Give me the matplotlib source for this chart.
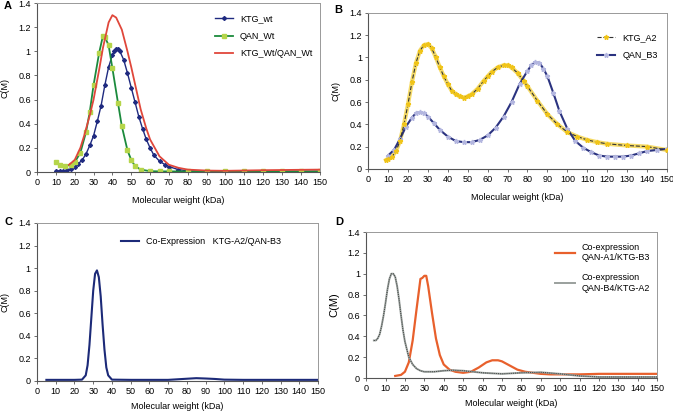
import matplotlib
matplotlib.use("Agg")
import matplotlib.pyplot as plt

plt.rcParams['font.family'] = ['Liberation Sans', 'DejaVu Sans']

# ---- panel A ----
ktg_wt_x = [10, 12, 14, 16, 18, 20, 22, 24, 26, 28, 30, 32, 34, 36, 38, 40, 41, 42, 43, 44, 46,
            48, 50, 52, 54, 56, 58, 60, 62, 65, 68, 70, 75, 80, 90, 100, 110, 120, 130, 140, 150]
ktg_wt_y = [0.01, 0.01, 0.01, 0.015, 0.025, 0.04, 0.07, 0.1, 0.15, 0.22, 0.3, 0.42, 0.55, 0.72, 0.87,
            0.97, 1.0, 1.02, 1.02, 1.0, 0.93, 0.82, 0.7, 0.58, 0.46, 0.36, 0.27, 0.2, 0.14, 0.09, 0.06,
            0.045, 0.02, 0.01, 0.006, 0.005, 0.005, 0.005, 0.005, 0.005, 0.006]
qan_wt_x = [10, 12, 15, 18, 20, 23, 26, 28, 30, 33, 35, 36, 38, 40, 43, 45, 48, 50, 52, 55, 60,
            65, 70, 80, 90, 100, 110, 120, 130, 140, 150]
qan_wt_y = [0.08, 0.06, 0.05, 0.06, 0.08, 0.16, 0.33, 0.5, 0.72, 0.99, 1.13, 1.12, 1.05, 0.86,
            0.57, 0.38, 0.18, 0.1, 0.05, 0.02, 0.007, 0.005, 0.005, 0.005, 0.005, 0.005, 0.005,
            0.005, 0.005, 0.005, 0.005]
ktg_qan_x = [17, 20, 23, 25, 28, 30, 33, 35, 38, 40, 42, 45, 48, 50, 53, 55, 58, 60, 65, 70, 75,
             80, 90, 100, 120, 150]
ktg_qan_y = [0.06, 0.1, 0.2, 0.3, 0.47, 0.6, 0.85, 1.03, 1.24, 1.3, 1.28, 1.18, 1.0, 0.87, 0.66,
             0.52, 0.36, 0.27, 0.13, 0.06, 0.035, 0.02, 0.012, 0.01, 0.015, 0.02]

# ---- panel B ----
ktg_a2_x = [9, 10, 12, 14, 16, 18, 20, 22, 24, 26, 28, 30, 32, 34, 36, 38, 40, 42, 44, 46, 48, 50,
            52, 55, 58, 60, 62, 65, 68, 70, 72, 75, 78, 80, 85, 90, 95, 100, 105, 110, 115, 120,
            130, 140, 150]
ktg_a2_y = [0.08, 0.09, 0.11, 0.16, 0.25, 0.4, 0.58, 0.78, 0.95, 1.06, 1.11, 1.12, 1.08, 1.0, 0.91,
            0.83, 0.76, 0.7, 0.67, 0.65, 0.64, 0.65, 0.67, 0.72, 0.79, 0.83, 0.87, 0.91, 0.93, 0.93,
            0.91, 0.86, 0.79, 0.74, 0.61, 0.49, 0.4, 0.33, 0.29, 0.26, 0.24, 0.225, 0.21, 0.2, 0.17]
qan_b3_x = [10, 13, 16, 19, 22, 24, 26, 28, 30, 33, 36, 40, 44, 48, 52, 56, 60, 64, 68, 72, 76, 80,
            82, 84, 86, 88, 90, 93, 96, 100, 104, 108, 112, 116, 120, 124, 128, 132, 136, 140,
            145, 150]
qan_b3_y = [0.12, 0.17, 0.27, 0.38, 0.46, 0.5, 0.51, 0.5, 0.47, 0.41, 0.35, 0.29, 0.25, 0.24, 0.24,
            0.26, 0.3, 0.37, 0.47, 0.6, 0.76, 0.88, 0.93, 0.96, 0.95, 0.9, 0.83, 0.68, 0.52, 0.36,
            0.25, 0.19, 0.15, 0.12, 0.11, 0.11, 0.11, 0.12, 0.14, 0.16, 0.17, 0.18]

# ---- panel C ----
coexp_x = [5, 10, 20, 24, 26, 27, 28, 29, 30, 31, 32, 33, 34, 35, 36, 37, 38, 40, 50, 60, 70, 75,
           80, 85, 90, 95, 100, 110, 120, 150]
coexp_y = [0.01, 0.01, 0.01, 0.012, 0.05, 0.14, 0.32, 0.56, 0.8, 0.95, 0.98, 0.92, 0.75, 0.5, 0.28,
           0.12, 0.05, 0.012, 0.01, 0.01, 0.01, 0.015, 0.02, 0.025, 0.022, 0.018, 0.012, 0.01, 0.01,
           0.01]

# ---- panel D ----
qa1_x = [15, 18, 20, 22, 24, 26, 28, 29, 30, 31, 32, 34, 36, 38, 40, 43, 46, 50, 54, 58, 62, 65,
         68, 70, 74, 78, 82, 86, 90, 95, 100, 110, 120, 130, 140, 150]
qa1_y = [0.02, 0.03, 0.06, 0.15, 0.36, 0.66, 0.95, 0.96, 0.98, 0.98, 0.88, 0.62, 0.38, 0.22, 0.13,
         0.08, 0.06, 0.05, 0.06, 0.1, 0.15, 0.17, 0.17, 0.16, 0.12, 0.08, 0.06, 0.05, 0.04, 0.035,
         0.035, 0.035, 0.04, 0.04, 0.04, 0.04]
qb4_x = [4, 5, 6, 7, 8, 9, 10, 11, 12, 13, 14, 15, 16, 17, 18, 19, 20, 22, 24, 26, 28, 30, 35, 40,
         45, 50, 55, 60, 70, 80, 90, 100, 110, 120, 130, 150]
qb4_y = [0.36, 0.36, 0.38, 0.42, 0.5, 0.6, 0.72, 0.85, 0.95, 1.0, 1.0, 0.97, 0.88, 0.75, 0.6, 0.46,
         0.35, 0.2, 0.13, 0.09, 0.07, 0.06, 0.06, 0.07, 0.075, 0.07, 0.06, 0.05, 0.04, 0.05, 0.055,
         0.04, 0.02, 0.01, 0.01, 0.01]

xticks = list(range(0, 151, 10))
yticks = [0, 0.2, 0.4, 0.6, 0.8, 1, 1.2, 1.4]
ytick_labels = ['0', '0.2', '0.4', '0.6', '0.8', '1', '1.2', '1.4']


def style_axes(ax, ylabel_size=6.5, xlabelpad=6):
    ax.set_xlim(0, 150)
    ax.set_ylim(0, 1.4)
    ax.set_xticks(xticks)
    ax.set_yticks(yticks)
    ax.set_yticklabels(ytick_labels)
    ax.tick_params(labelsize=6.5, length=2.5, width=0.6, color='#555555', pad=2)
    for side in ['top', 'right']:
        ax.spines[side].set_color('#999999')
        ax.spines[side].set_linewidth(0.7)
    for side in ['left', 'bottom']:
        ax.spines[side].set_color('#555555')
        ax.spines[side].set_linewidth(0.8)
    ax.set_xlabel('Molecular weight (kDa)', fontsize=6.5, labelpad=xlabelpad)
    ax.set_ylabel('C(M)', fontsize=ylabel_size, labelpad=6)


fig = plt.figure(figsize=(6.73, 4.13), dpi=100)

axA = fig.add_axes([0.055, 0.5835, 0.42, 0.409])
axA.plot(ktg_wt_x, ktg_wt_y, color='#1f2a80', lw=1.0, marker='D', ms=2.0, mfc='#1f2a80',
         mec='#1f2a80', label='KTG_wt')
axA.plot(qan_wt_x, qan_wt_y, color='#1b8a3c', lw=1.3, marker='s', ms=2.6, mfc='#b5d54a',
         mec='#b5d54a', label='QAN_Wt')
axA.plot(ktg_qan_x, ktg_qan_y, color='#e0473b', lw=1.3, label='KTG_Wt/QAN_Wt')
style_axes(axA)
axA.legend(loc='upper left', bbox_to_anchor=(0.6, 0.98), frameon=False, fontsize=6.5,
           handlelength=2, labelspacing=0.9)

axB = fig.add_axes([0.547, 0.591, 0.444, 0.378])
axB.plot(ktg_a2_x, ktg_a2_y, color='#f2cc2a', lw=3, alpha=0.7, zorder=2)
axB.plot(ktg_a2_x, ktg_a2_y, color='#333333', lw=0.8, ls='--', marker='*', ms=3.5, mfc='#f0c419',
         mec='#f0c419', zorder=3, label='KTG_A2')
axB.plot(qan_b3_x, qan_b3_y, color='#2b3380', lw=1.5, marker='*', ms=3.5, mfc='#b3b6df',
         mec='#b3b6df', label='QAN_B3')
style_axes(axB)
axB.legend(loc='upper left', bbox_to_anchor=(0.74, 0.92), frameon=False, fontsize=6.5,
           handlelength=2, labelspacing=1.0)

axC = fig.add_axes([0.055, 0.0775, 0.4175, 0.3826])
axC.plot(coexp_x, coexp_y, color='#1c2a78', lw=1.5, label='Co-Expression   KTG-A2/QAN-B3')
style_axes(axC, xlabelpad=4)
axC.legend(loc='upper left', bbox_to_anchor=(0.27, 0.96), frameon=False, fontsize=6.5,
           handlelength=2)

axD = fig.add_axes([0.544, 0.0847, 0.4324, 0.3535])
axD.plot(qa1_x, qa1_y, color='#e8602c', lw=1.6, label='Co-expression\nQAN-A1/KTG-B3')
gray_line, = axD.plot(qb4_x, qb4_y, color='#9aa09d', lw=1.4, label='Co-expression\nQAN-B4/KTG-A2')
axD.plot(qb4_x, qb4_y, color='#3d4240', lw=0.7, ls=(0, (1, 1.2)))
style_axes(axD, ylabel_size=8, xlabelpad=4)
axD.legend(loc='upper left', bbox_to_anchor=(0.62, 0.98), frameon=False, fontsize=6.5,
           handlelength=2.2, labelspacing=1.2)

fig.text(0.006, 0.985, 'A', fontsize=8, fontweight='bold', va='center')
fig.text(0.496, 0.975, 'B', fontsize=8, fontweight='bold', va='center')
fig.text(0.006, 0.462, 'C', fontsize=8, fontweight='bold', va='center')
fig.text(0.498, 0.462, 'D', fontsize=8, fontweight='bold', va='center')

fig.savefig('out.png', dpi=100)
